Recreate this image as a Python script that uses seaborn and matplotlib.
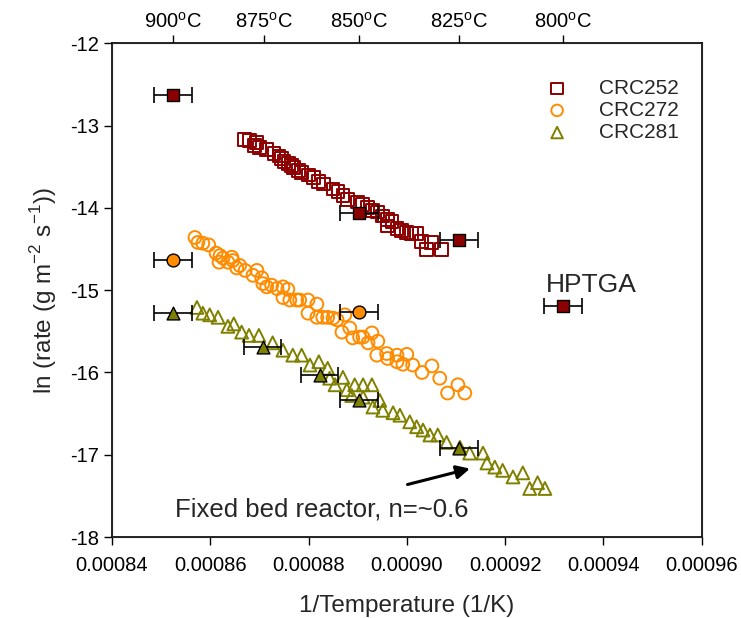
import numpy as np
import pandas as pd
import matplotlib
matplotlib.use("Agg")
import matplotlib.pyplot as plt
import seaborn as sns
from matplotlib.ticker import FuncFormatter

# open symbols: fixed bed reactor data
crc252_x = [0.000867, 0.000868, 0.000869, 0.0008695, 0.000870, 0.0008715, 0.000873, 0.000874,
            0.0008745, 0.000875, 0.000876, 0.0008765, 0.000877, 0.000878, 0.0008785, 0.000880,
            0.000881, 0.000882, 0.000883, 0.000885, 0.000886, 0.000887, 0.000888, 0.000890,
            0.000891, 0.000892, 0.000893, 0.000894, 0.000895, 0.000896, 0.000896, 0.000897,
            0.000898, 0.000899, 0.000900, 0.000901, 0.000902, 0.000903, 0.000905, 0.000904,
            0.000907]
crc252_y = [-13.17, -13.18, -13.24, -13.21, -13.27, -13.29, -13.34, -13.37,
            -13.40, -13.44, -13.46, -13.49, -13.51, -13.55, -13.57, -13.60,
            -13.63, -13.68, -13.71, -13.77, -13.80, -13.85, -13.90, -13.93,
            -13.96, -14.00, -14.03, -14.05, -14.10, -14.14, -14.22, -14.17,
            -14.25, -14.28, -14.30, -14.31, -14.31, -14.41, -14.42, -14.51,
            -14.51]

crc272_x = [0.0008569, 0.0008575, 0.0008585, 0.0008597, 0.0008612, 0.0008620, 0.0008626, 0.0008618,
            0.0008644, 0.0008646, 0.0008636, 0.0008660, 0.0008654, 0.0008671, 0.0008695, 0.0008687,
            0.0008705, 0.0008707, 0.0008725, 0.0008715, 0.0008736, 0.0008748, 0.0008758, 0.0008748,
            0.0008762, 0.0008776, 0.0008782, 0.0008799, 0.0008817, 0.0008799, 0.0008817, 0.0008829,
            0.0008839, 0.0008850, 0.0008858, 0.0008874, 0.0008868, 0.0008884, 0.0008890, 0.0008904,
            0.0008911, 0.0008929, 0.0008921, 0.0008941, 0.0008939, 0.0008959, 0.0008961, 0.0008980,
            0.0009000, 0.0008980, 0.0008992, 0.0009012, 0.0009031, 0.0009051, 0.0009067, 0.0009104,
            0.0009083, 0.0009118]
crc272_y = [-14.36, -14.42, -14.43, -14.45, -14.55, -14.58, -14.61, -14.66,
            -14.60, -14.64, -14.66, -14.70, -14.73, -14.76, -14.76, -14.82,
            -14.85, -14.92, -14.94, -14.96, -14.98, -14.96, -14.99, -15.09,
            -15.12, -15.12, -15.12, -15.12, -15.17, -15.28, -15.33, -15.33,
            -15.33, -15.34, -15.36, -15.30, -15.51, -15.46, -15.58, -15.57,
            -15.57, -15.52, -15.64, -15.62, -15.79, -15.77, -15.83, -15.79,
            -15.78, -15.87, -15.90, -15.91, -16.00, -15.92, -16.07, -16.15,
            -16.25, -16.25]

crc281_x = [0.0008573, 0.0008585, 0.0008599, 0.0008616, 0.0008636, 0.0008648, 0.0008664, 0.0008679,
            0.0008699, 0.0008727, 0.0008748, 0.0008768, 0.0008786, 0.0008803, 0.0008821, 0.0008839,
            0.0008843, 0.0008870, 0.0008854, 0.0008878, 0.0008894, 0.0008911, 0.0008929, 0.0008888,
            0.0008911, 0.0008945, 0.0008931, 0.0008951, 0.0008972, 0.0008986, 0.0009006, 0.0009020,
            0.0009033, 0.0009047, 0.0009063, 0.0009081, 0.0009108, 0.0009128, 0.0009155, 0.0009163,
            0.0009179, 0.0009195, 0.0009216, 0.0009236, 0.0009250, 0.0009266, 0.0009281]
crc281_y = [-15.21, -15.28, -15.30, -15.33, -15.44, -15.41, -15.51, -15.55,
            -15.55, -15.64, -15.73, -15.79, -15.79, -15.91, -15.87, -15.95,
            -16.07, -16.06, -16.15, -16.21, -16.15, -16.15, -16.15, -16.28,
            -16.30, -16.34, -16.42, -16.46, -16.49, -16.52, -16.60, -16.66,
            -16.70, -16.76, -16.76, -16.85, -16.91, -16.98, -16.98, -17.10,
            -17.15, -17.19, -17.27, -17.22, -17.41, -17.34, -17.41]

# filled symbols: HPTGA data with x error bars
hp252_x = [0.0008524, 0.0008903, 0.0009106, 0.0009318]
hp252_y = [-12.63, -14.06, -14.39, -15.19]
hp272_x = [0.0008524, 0.0008903]
hp272_y = [-14.63, -15.27]
hp281_x = [0.0008524, 0.0008707, 0.0008823, 0.0008903, 0.0009106]
hp281_y = [-15.28, -15.69, -16.03, -16.34, -16.92]
hp_xerr = 0.0000038

top_temps = [900, 875, 850, 825, 800]

colors = {"CRC252": "#8B0000", "CRC272": "#FF8C00", "CRC281": "#808000"}
markers = {"CRC252": "s", "CRC272": "o", "CRC281": "^"}

sns.set_style("white")
plt.rcParams['font.family'] = ['Liberation Sans', 'DejaVu Sans']

fig = plt.figure(figsize=(7.41, 6.18), dpi=100)
ax = fig.add_axes([0.151, 0.131, 0.796, 0.799])

open_sets = [("CRC252", crc252_x, crc252_y), ("CRC272", crc272_x, crc272_y),
             ("CRC281", crc281_x, crc281_y)]
for name, xs, ys in open_sets:
    df = pd.DataFrame({"x": xs, "y": ys})
    sns.scatterplot(data=df, x="x", y="y", ax=ax, marker=markers[name], s=85,
                    color=colors[name], facecolor="none", edgecolor=colors[name],
                    linewidth=1.4, label=name, zorder=2)

filled_sets = [("CRC252", hp252_x, hp252_y), ("CRC272", hp272_x, hp272_y),
               ("CRC281", hp281_x, hp281_y)]
for name, xs, ys in filled_sets:
    ax.errorbar(xs, ys, xerr=hp_xerr, fmt="none", ecolor="black", elinewidth=1.2,
                capsize=6, capthick=1.2, zorder=3)
    df = pd.DataFrame({"x": xs, "y": ys})
    sns.scatterplot(data=df, x="x", y="y", ax=ax, marker=markers[name], s=85,
                    color=colors[name], edgecolor="black", linewidth=1.0, zorder=4)

ax.set_xlim(0.00084, 0.00096)
ax.set_ylim(-18, -12)
ax.set_xticks(np.arange(0.00084, 0.000961, 0.00002))
ax.set_yticks(range(-18, -11))
ax.xaxis.set_major_formatter(FuncFormatter(lambda v, p: f"{v:.5f}"))
ax.yaxis.set_major_formatter(FuncFormatter(lambda v, p: f"{v:.0f}"))
ax.tick_params(axis="both", direction="out", length=6, width=1, labelsize=14.5,
               bottom=True, left=True, colors="black")
ax.tick_params(axis="x", pad=8)
ax.set_xlabel("1/Temperature (1/K)", fontsize=17.5, labelpad=14)
ax.set_ylabel(r"ln (rate (g m$^{\mathregular{-2}}$ s$^{\mathregular{-1}}$))", fontsize=17.5, labelpad=8)
for sp in ax.spines.values():
    sp.set_color("black")
    sp.set_linewidth(1.2)

ax2 = ax.twiny()
ax2.set_xlim(ax.get_xlim())
ax2.set_xticks([1.0 / (t + 273.15) for t in top_temps])
ax2.set_xticklabels([f"{t}$^{{\\mathregular{{o}}}}$C" for t in top_temps], fontsize=14.5)
ax2.tick_params(axis="x", direction="out", length=6, width=1, top=True, colors="black", pad=2)

ax.legend(loc="upper right", frameon=False, fontsize=15, bbox_to_anchor=(0.975, 0.945),
          borderaxespad=0, handletextpad=1.0, labelspacing=0.15, markerscale=0.9)

ax.text(0.0009283, -14.94, "HPTGA", fontsize=19, va="center", ha="left")
ax.text(0.0008528, -17.67, "Fixed bed reactor, n=~0.6", fontsize=18.5, va="center", ha="left")
ax.annotate("", xy=(0.0009134, -17.16), xytext=(0.0008996, -17.37),
            arrowprops=dict(arrowstyle="-|>", color="black", lw=2.2, mutation_scale=20))

fig.savefig("out.png", dpi=100)
